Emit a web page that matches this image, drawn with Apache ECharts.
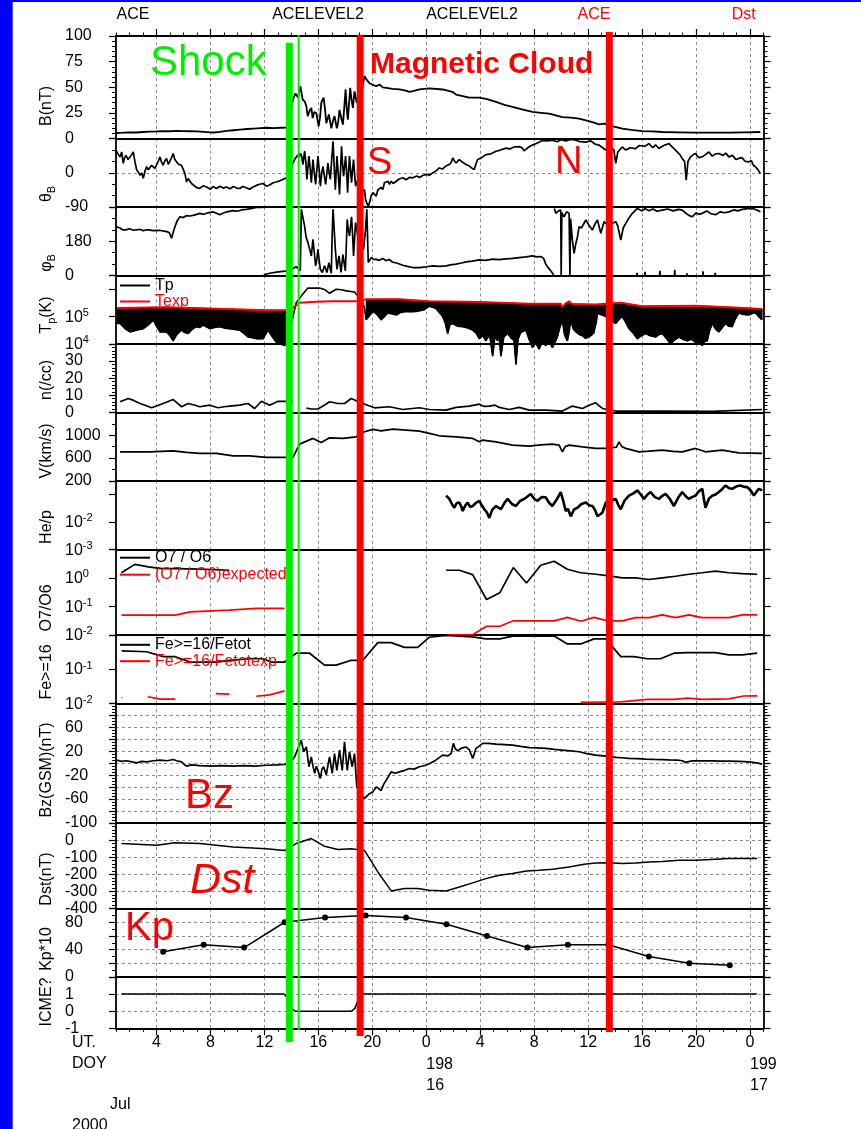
<!DOCTYPE html>
<html>
<head>
<meta charset="utf-8">
<script src="https://cdn.jsdelivr.net/npm/echarts@6/dist/echarts.min.js"></script>
<style>
  html, body { margin: 0; padding: 0; background: #fff; }
  #chart { width: 861px; height: 1129px; }
</style>
</head>
<body>
<div id="chart"></div>
<script>
// ---------- time axis (hours since 2000-07-15 00:00 UT) ----------
const HOURS_MAJOR = [4, 8, 12, 16, 20, 24, 28, 32, 36, 40, 44, 48];
const DOY_TICKS = [24, 48];
const DOY_LABELS = ['198', '199'];
const DAY_LABELS = ['16', '17'];
const TOP_LABELS = ['ACE', 'ACELEVEL2', 'ACELEVEL2', 'ACE', 'Dst'];
const EVENT_TIMES = [13.85, 14.54, 19.10, 37.57];   // shock, shock (2nd), cloud start, cloud end

// ---------- measurements: [hour, value] ----------
const B_NT = [[1.05,5.5],[1.5,5.8],[2.0,6.2],[2.5,6],[3.0,6.5],[3.5,6.8],[4.0,7],[4.5,7.3],[5.0,7.2],[5.5,7.6],[6.0,7.4],[6.5,7.2],[7.0,7],[7.5,6.6],[8.0,6.2],[8.3,6.0],[8.7,6.6],[9.2,7.5],[9.7,8.2],[10.2,8.8],[10.7,9.4],[11.2,9.8],[11.7,10.2],[12.2,10.6],[12.7,10.2],[13.2,10.6],[13.7,10.8],[13.9,11],
[14.0,30],[14.12,38],[14.3,44],[14.5,40],[14.67,51],[14.84,38],[15.0,36],[15.11,31.6],[15.21,22],[15.35,27],[15.48,30],[15.58,20],[15.7,26],[15.85,25],[16.02,12],[16.12,20],[16.22,35],[16.39,40],[16.5,28],[16.59,15],[16.78,23.5],[16.96,10],[17.1,18],[17.2,22],[17.37,10],[17.47,16],[17.57,28],[17.7,20],[17.82,13.7],[17.92,30],[18.02,48],[18.1,30],[18.19,18.6],[18.28,35],[18.36,49.5],[18.46,38],[18.56,30],[18.68,46],[18.85,35],[19.0,40],[19.2,45],[19.42,61],[19.55,58],[19.79,54],[20.29,51],[20.53,52.8],[20.78,50],[21.03,49.5],[21.5,48.5],[22.01,48],[22.4,47],[22.75,45.5],[23.1,46.5],[23.49,48],[24.23,48.9],[25.22,47.9],[25.93,45.6],[26.21,43],[26.7,41.5],[27.19,40],[27.93,40],[28.5,38.5],[29.17,35.8],[29.8,33],[30.39,30.9],[31.1,28.5],[31.87,26],[32.5,25.2],[33.11,24.4],[34.09,21],[34.7,20.5],[35.33,19.5],[35.9,17.5],[36.44,15.6],[36.81,14],[37.18,14.7],[37.55,13],[38.0,11.5],[38.53,9.8],[39.2,8.5],[40.01,7.4],[40.8,7],[41.49,6.5],[42.7,6.2],[43.96,5.9],[45.2,5.8],[46.43,5.9],[47.6,6.2],[48.77,6.5]];

const THETA_B = [[1.0,59],[1.15,50],[1.3,42],[1.42,55],[1.54,25],[1.64,40],[1.74,46],[1.9,35],[2.04,38],[2.16,48],[2.28,55],[2.4,30],[2.53,8],[2.65,2],[2.78,-6],[2.9,0],[3.02,-14],[3.15,5],[3.27,16],[3.4,8],[3.52,11.6],[3.64,20],[3.76,25],[3.88,12],[4.01,16],[4.13,30],[4.26,42],[4.38,28],[4.5,20],[4.62,32],[4.75,38],[4.88,22],[5.0,25],[5.12,40],[5.24,51],[5.36,35],[5.49,29],[5.66,22],[5.86,20],[6.0,8],[6.11,-2],[6.23,-24],[6.35,-15],[6.48,-19],[6.6,-28],[6.72,-32],[6.95,-38],[7.21,-41],[7.45,-34],[7.71,-37],[8.0,-43],[8.2,-36],[8.45,-41],[8.7,-35],[8.95,-40],[9.19,-37],[9.45,-42],[9.7,-36],[9.95,-40],[10.17,-41],[10.4,-36],[10.65,-39],[10.9,-43],[11.16,-37],[11.4,-33],[11.65,-30],[11.9,-28],[12.15,-35],[12.39,-32],[12.65,-26],[12.89,-24],[13.2,-20],[13.5,-15],[13.9,-10],[14.05,20],
[14.24,35],[14.37,30],[14.49,48],[14.58,40],[14.66,52],[14.76,45],[14.86,22],[14.98,57],[15.07,30],[15.15,-17],[15.3,44],[15.4,10],[15.48,-26],[15.6,35],[15.7,0],[15.8,-30.5],[15.97,44],[16.06,10],[16.15,-35],[16.25,0],[16.34,17],[16.45,-10],[16.54,-30.5],[16.71,26],[16.8,0],[16.89,-17],[17.0,40],[17.09,83],[17.17,20],[17.26,-44],[17.38,44],[17.47,0],[17.57,-57],[17.72,70],[17.8,20],[17.87,-9],[17.95,20],[18.02,44],[18.1,0],[18.17,-52],[18.24,0],[18.31,44],[18.38,10],[18.46,-26],[18.54,10],[18.61,35],[18.68,0],[18.76,-35],[18.9,-20],[19.05,-40],[19.2,-50],[19.42,-44],[19.5,-70],[19.59,-79],[19.7,-88],[19.79,-79],[19.92,-60],[20.04,-52],[20.16,-52],[20.29,-61],[20.41,-45],[20.53,-44],[20.65,-38],[20.78,-44],[20.9,-26],[21.03,-30.5],[21.15,-22],[21.27,-30],[21.4,-22],[21.55,-28],[21.77,-22],[22.0,-16],[22.26,-13],[22.5,-18],[22.75,-12],[23.0,-13],[23.3,-8],[23.5,-12],[23.74,-7],[24.0,-4],[24.25,-6],[24.48,0],[24.72,5],[24.97,13],[25.2,10],[25.45,18],[25.71,22],[25.85,28],[25.96,39],[26.08,32],[26.21,26],[26.33,30],[26.45,35],[26.7,28],[26.95,22],[27.2,18],[27.4,12],[27.56,9],[27.7,25],[27.81,35],[28.1,40],[28.42,48],[28.8,50],[29.17,57],[29.5,60],[29.91,65],[30.2,63],[30.5,68],[30.89,69],[31.1,66],[31.25,58],[31.39,60],[31.6,68],[31.87,73],[32.2,78],[32.61,85],[33.0,84],[33.35,86],[33.7,82],[34.0,87],[34.35,84],[34.7,88],[35.09,86],[35.4,82],[35.83,81],[36.2,84],[36.5,76],[36.81,73],[37.0,68],[37.31,60],[37.6,64],[37.9,62],[38.05,25],[38.2,55],[38.53,68],[38.8,60],[39.1,66],[39.52,64],[39.8,72],[40.2,70],[40.51,77],[40.8,66],[41.0,74],[41.25,64],[41.6,72],[41.99,77],[42.3,66],[42.6,55],[42.8,48],[42.97,38],[43.15,30],[43.27,-19],[43.4,30],[43.59,42],[43.8,48],[43.96,51],[44.2,40],[44.45,42],[44.7,48],[44.95,55],[45.2,44],[45.45,50],[45.69,51],[46.0,46],[46.2,52],[46.43,42],[46.7,46],[46.95,35],[47.17,38],[47.4,40],[47.65,30],[47.91,29],[48.1,32],[48.25,20],[48.4,16],[48.6,8],[48.77,-2]];

const PHI_B = [[1.0,257],[1.3,250],[1.5,240],[1.74,240],[2.0,246],[2.3,238],[2.78,243],[3.0,236],[3.3,241],[3.76,236],[4.2,238],[4.75,231],[4.95,226],[5.12,196],[5.25,230],[5.37,257],[5.55,290],[5.74,309],[6.0,305],[6.2,315],[6.48,313],[6.8,318],[7.21,327],[7.5,322],[7.8,330],[8.2,335],[8.45,328],[8.69,320],[9.0,330],[9.3,336],[9.68,341],[10.0,338],[10.3,345],[10.66,348],[11.0,352],[11.4,358],[11.9,359],[11.92,null],
[11.95,4],[12.39,12],[12.9,18],[13.38,22],[13.87,26],[14.1,35],[14.24,33],[14.36,47],[14.49,51],[14.66,25],[14.72,15],[14.74,348],[14.98,260],[15.1,200],[15.23,173],[15.35,140],[15.48,103],[15.6,191],[15.7,120],[15.8,51],[15.9,90],[15.97,138],[16.06,80],[16.15,33],[16.29,16],[16.46,51],[16.64,16],[16.78,68],[16.96,12],[17.02,200],[17.09,348],[17.17,250],[17.26,138],[17.38,33],[17.53,103],[17.68,16],[17.82,110],[18.0,25],[18.07,150],[18.14,295],[18.2,250],[18.31,208],[18.46,309],[18.55,200],[18.61,103],[18.68,190],[18.76,278],[18.95,200],[19.1,160],[19.25,150],[19.35,138],[19.5,243],[19.59,348],[19.65,200],[19.7,68],[19.79,77],[19.92,94],[20.1,85],[20.29,85],[20.53,80],[20.78,90],[21.0,78],[21.25,84],[21.52,70],[21.8,66],[22.26,54],[22.6,48],[23.0,42],[23.49,42],[24.0,46],[24.48,51],[25.0,48],[25.47,51],[25.8,56],[26.21,60],[26.6,66],[26.95,72],[27.4,76],[27.93,82],[28.4,80],[28.92,86],[29.4,84],[29.91,88],[30.4,90],[30.89,94],[31.4,98],[31.87,103],[32.2,98],[32.49,100],[32.7,90],[32.86,60],[33.05,40],[33.23,25],[33.4,8],[33.45,0],[33.47,null],
[33.5,353],[33.6,327],[33.8,340],[33.97,344],[34.0,0],[34.05,330],[34.22,309],[34.4,335],[34.59,327],[34.65,0],[34.7,300],[34.83,187],[34.96,117],[35.09,170],[35.2,200],[35.33,257],[35.5,250],[35.83,292],[36.1,260],[36.32,240],[36.5,270],[36.69,292],[36.94,222],[37.18,283],[37.4,270],[37.6,290],[37.8,275],[38.05,283],[38.2,260],[38.42,187],[38.6,250],[38.79,274],[39.0,300],[39.28,327],[39.65,353],[40.0,340],[40.2,352],[40.51,341],[40.8,350],[41.1,338],[41.5,344],[41.9,350],[42.3,340],[42.7,348],[42.98,344],[43.3,325],[43.5,315],[43.72,309],[44.0,330],[44.2,322],[44.46,327],[44.8,340],[45.1,325],[45.44,320],[45.8,335],[46.1,330],[46.43,335],[46.8,345],[47.1,340],[47.42,348],[47.8,352],[48.16,353],[48.5,345],[48.77,335]];

const PHI_B_WRAPPED = [[39.6,0],[39.62,14],[39.64,0],[39.66,null],[40.2,0],[40.22,20],[40.24,0],[40.26,null],[41.3,0],[41.32,25],[41.34,0],[41.36,null],[42.4,0],[42.42,30],[42.44,0],[42.46,null],[43.3,0],[43.32,12],[43.34,0],[43.36,null],[44.5,0],[44.52,22],[44.54,0],[44.56,null],[45.4,0],[45.42,14],[45.44,0]];

const TP = [[1.1,5.6e4],[1.3,5.6e4],[1.7,3.5e4],[2.04,2.75e4],[2.5,3.2e4],[3.02,3.6e4],[3.4,5.0e4],[3.76,7.6e4],[4.0,4.5e4],[4.26,2.75e4],[4.75,2.75e4],[5.0,2.0e4],[5.24,1.3e4],[5.5,2.2e4],[5.86,3.2e4],[6.1,2.6e4],[6.36,2.4e4],[6.7,3.6e4],[6.97,4.3e4],[7.2,4.0e4],[7.46,4.9e4],[7.7,4.2e4],[7.96,3.6e4],[8.3,4.0e4],[8.69,4.3e4],[9.05,3.8e4],[9.43,3.6e4],[9.8,3.4e4],[10.17,3.2e4],[10.5,2.4e4],[10.78,1.8e4],[11.1,1.7e4],[11.4,1.55e4],[11.9,1.55e4],[12.27,3.2e4],[12.6,1.8e4],[12.89,1.15e4],[13.2,1.0e4],[13.5,8.7e3],[13.8,2.0e4],[14.0,5.0e4],[14.12,1.0e5],[14.36,3.2e5],[14.73,5.6e5],[15.23,1.1e6],[15.6,1.1e6],[16.09,1.1e6],[16.5,9.5e5],[16.83,7.1e5],[17.32,1.0e6],[17.7,9.5e5],[18.07,8.7e5],[18.68,7.9e5],[18.93,5.6e5],[19.3,3.2e5],[19.42,2.0e5],[19.55,7.6e4],[19.8,1.1e5],[20.04,1.55e5],[20.35,1.2e5],[20.65,7.6e4],[20.9,1.0e5],[21.14,1.35e5],[21.5,1.25e5],[21.77,1.15e5],[22.1,1.4e5],[22.51,1.55e5],[22.9,1.5e5],[23.25,1.55e5],[23.86,1.8e5],[24.23,2.4e5],[24.7,2.0e5],[25.22,1.0e5],[25.4,6.0e4],[25.59,2.4e4],[25.75,5.0e4],[25.96,5.6e4],[26.3,4.5e4],[26.7,4.3e4],[27.1,3.8e4],[27.44,3.2e4],[27.7,2.5e4],[27.93,1.55e4],[28.2,2.0e4],[28.42,1.3e4],[28.7,2.2e4],[28.92,3.6e3],[29.1,2.0e4],[29.29,1.3e4],[29.4,2.2e4],[29.53,3.6e3],[29.75,1.8e4],[30.03,2.4e4],[30.3,1.6e4],[30.5,1.4e4],[30.65,1.8e3],[30.8,1.5e4],[31.0,2.6e4],[31.39,3.2e4],[31.6,1.6e4],[31.87,7.4e3],[32.1,1.1e4],[32.37,6.5e3],[32.6,1.2e4],[32.86,8.7e3],[33.1,1.3e4],[33.35,7.4e3],[33.55,1.2e4],[33.72,1.8e4],[33.9,4.0e4],[34.09,7.6e4],[34.25,2.2e4],[34.46,1.3e4],[34.6,3.0e4],[34.71,7.6e4],[34.9,3.5e4],[35.09,2.75e4],[35.35,2.2e4],[35.58,2.0e4],[35.8,1.6e4],[36.07,1.8e4],[36.3,2.2e4],[36.44,2.4e4],[36.6,6e4],[36.69,1.35e5],[36.9,1.2e5],[37.06,1.15e5],[37.31,1.0e5],[37.6,8e4],[38.05,5.6e4],[38.3,8e4],[38.54,1.0e5],[38.8,6e4],[39.03,3.6e4],[39.3,2.6e4],[39.65,1.55e4],[39.95,2.0e4],[40.26,2.4e4],[40.6,2.0e4],[41.0,1.8e4],[41.25,2.2e4],[41.5,2.4e4],[41.8,1.6e4],[42.11,1.0e4],[42.4,1.4e4],[42.73,1.8e4],[43.0,1.5e4],[43.35,1.3e4],[43.65,1.5e4],[43.96,1.15e4],[44.2,1.2e4],[44.46,8.7e3],[44.6,1.2e4],[44.83,1.3e4],[45.0,3.0e4],[45.2,5.6e4],[45.45,3.5e4],[45.69,2.75e4],[45.95,4.0e4],[46.19,5.6e4],[46.4,4.5e4],[46.68,4.3e4],[46.9,8e4],[47.17,1.35e5],[47.5,1.2e5],[47.91,1.15e5],[48.15,1.3e5],[48.4,1.35e5],[48.65,1.0e5],[48.89,7.6e4]];

const TEXP = [[1.1,2.07e5],[4.75,2.2e5],[8.45,1.95e5],[12.15,1.7e5],[13.85,1.7e5],[14.12,2.1e5],[14.61,3.2e5],[15.85,3.5e5],[17.08,3.6e5],[18.81,3.6e5],[19.55,4.3e5],[22.01,4.3e5],[24.23,3.6e5],[27.93,3.4e5],[31.63,2.95e5],[33.97,2.95e5],[34.09,2.2e5],[34.3,2.9e5],[34.59,3.6e5],[34.8,2.9e5],[36.56,2.75e5],[38.42,3.2e5],[40.02,2.4e5],[43.96,2.5e5],[46.43,2.2e5],[48.9,1.9e5]];

// intervals where Tp sits below the expected temperature (shaded)
const TP_BELOW_SPANS = [[1.1, 13.85], [19.55, 48.9]];

const N_CC = [[1.3,6.2],[1.91,8.1],[2.3,7],[2.78,5.2],[3.2,4],[3.64,2.7],[4.1,4],[4.5,5.2],[5.24,7.5],[5.86,3.3],[6.35,5.2],[6.8,4.3],[7.21,3.3],[7.95,4.2],[8.57,2.7],[9.0,3.3],[9.43,3.7],[10.17,4.3],[10.79,5.2],[11.28,2.3],[11.78,6.5],[12.39,4.2],[13.01,6.5],[13.5,6.5],[14.12,6.5],[14.15,null],[15.11,2.5],[15.5,2.0],[15.97,2.0],[16.5,4.5],[16.83,6.2],[17.45,5.2],[17.94,5.2],[18.44,8.1],[18.93,6.4],[19.55,4.5],[20.16,2.7],[21.27,3.3],[22.26,1.7],[23.49,2.7],[24.23,1.7],[25.47,1.3],[26.21,2.9],[27.19,3.7],[27.93,4.8],[28.3,3.5],[28.67,3.7],[29.1,4.2],[29.41,2.9],[30.15,1.7],[30.89,2.9],[31.63,1.3],[32.86,1.3],[34.09,0.8],[34.83,3.7],[35.58,2.3],[36.07,4.2],[36.56,5.6],[36.8,4],[37.06,2.3],[38.05,0.8],[41.5,0.8],[45.2,0.6],[48.9,1.7]];

const V_KMS = [[1.3,709],[3.52,709],[5.24,726],[6.23,698],[7.21,680],[8.45,680],[9.68,639],[10.91,639],[12.15,610],[13.5,610],[14.12,610],[14.61,844],[15.6,944],[16.22,873],[16.83,954],[17.82,944],[18.81,972],[19.42,1060],[20.04,1102],[20.65,1077],[21.52,1107],[22.51,1089],[23.49,1072],[24.23,1031],[24.97,990],[26.21,972],[27.44,944],[27.93,884],[28.18,914],[29.17,884],[30.39,826],[31.63,808],[32.5,830],[33.35,844],[33.85,826],[34.09,709],[34.3,800],[34.59,826],[35.58,796],[36.56,768],[37.31,768],[38.1,790],[38.29,884],[38.5,800],[38.79,768],[39.77,709],[40.5,720],[41.5,738],[42.3,715],[42.98,709],[43.96,768],[44.7,709],[45.93,738],[47.17,691],[48.9,680]];

const HE_P = [[25.47,0.091],[25.6,0.083],[25.71,0.069],[25.9,0.045],[26.08,0.033],[26.25,0.048],[26.45,0.051],[26.6,0.036],[26.7,0.025],[26.9,0.04],[27.07,0.051],[27.25,0.035],[27.44,0.038],[27.7,0.05],[27.93,0.059],[28.1,0.042],[28.3,0.029],[28.5,0.022],[28.67,0.014],[28.9,0.028],[29.17,0.038],[29.35,0.033],[29.54,0.029],[29.8,0.05],[30.03,0.069],[30.35,0.045],[30.65,0.038],[30.95,0.058],[31.26,0.069],[31.5,0.085],[31.75,0.105],[32.0,0.07],[32.25,0.059],[32.55,0.08],[32.86,0.079],[33.1,0.05],[33.35,0.038],[33.7,0.07],[33.97,0.123],[34.15,0.06],[34.34,0.025],[34.5,0.03],[34.71,0.016],[34.95,0.028],[35.21,0.033],[35.5,0.045],[35.83,0.051],[36.1,0.04],[36.32,0.038],[36.5,0.028],[36.69,0.016],[36.9,0.019],[37.06,0.022],[37.31,0.051],[37.7,0.06],[38.05,0.069],[38.25,0.04],[38.42,0.029],[38.7,0.06],[39.03,0.091],[39.35,0.11],[39.65,0.141],[39.9,0.1],[40.14,0.069],[40.4,0.1],[40.63,0.123],[40.95,0.08],[41.25,0.069],[41.5,0.09],[41.74,0.105],[42.05,0.07],[42.36,0.038],[42.7,0.08],[42.98,0.123],[43.2,0.09],[43.47,0.069],[43.7,0.08],[43.96,0.091],[44.2,0.13],[44.46,0.162],[44.6,0.06],[44.7,0.033],[44.95,0.07],[45.2,0.091],[45.45,0.1],[45.69,0.123],[45.95,0.16],[46.19,0.214],[46.45,0.17],[46.68,0.162],[47.0,0.2],[47.3,0.214],[47.55,0.19],[47.8,0.186],[48.05,0.14],[48.29,0.091],[48.5,0.13],[48.66,0.162],[48.9,0.141]];

const O7_O6 = [[1.4,1.5],[2.4,2.95],[3.4,2.4],[4.4,2.1],[5.4,2.1],[7.2,2.0],[9.4,1.84],[9.5,null],[25.47,1.84],[26.45,1.84],[27.44,1.29],[28.47,0.173],[29.46,0.30],[30.45,2.29],[31.43,0.66],[32.49,2.75],[33.48,3.8],[34.46,2.0],[35.45,1.5],[36.56,1.33],[37.55,1.16],[38.53,1.0],[39.52,1.0],[40.51,0.87],[41.5,1.0],[42.48,1.13],[43.47,1.33],[44.46,1.5],[45.44,1.7],[46.43,1.5],[47.42,1.41],[48.53,1.33]];
const O7_O6_EXP = [[1.4,0.049],[5.4,0.049],[6.5,0.064],[9.4,0.073],[11.4,0.084],[13.5,0.084],[13.6,null],[25.47,0.010],[27.44,0.010],[28.47,0.020],[29.46,0.020],[30.45,0.031],[31.43,0.031],[32.49,0.031],[33.48,0.031],[34.46,0.041],[35.45,0.030],[36.44,0.041],[37.43,0.031],[38.53,0.031],[39.52,0.040],[40.51,0.040],[41.5,0.050],[42.48,0.040],[43.47,0.050],[44.46,0.040],[45.44,0.040],[46.43,0.040],[47.42,0.050],[48.53,0.050]];

const FE16 = [[1.42,0.34],[3.27,0.32],[4.5,0.23],[5.37,0.23],[6.48,0.16],[8.45,0.16],[9.43,0.18],[10.91,0.20],[11.9,0.20],[12.52,0.16],[13.5,0.16],[14.36,0.29],[15.35,0.29],[16.46,0.13],[17.32,0.13],[18.44,0.18],[19.3,0.18],[20.41,0.59],[21.4,0.59],[22.38,0.43],[23.37,0.43],[24.23,0.85],[25.47,0.96],[27.44,0.87],[28.42,0.76],[29.46,0.76],[30.39,0.92],[33.48,0.92],[34.46,0.54],[35.45,0.54],[36.44,0.76],[37.31,0.76],[38.42,0.23],[39.4,0.23],[40.39,0.20],[41.37,0.20],[42.36,0.29],[43.35,0.30],[44.33,0.30],[45.44,0.30],[46.43,0.26],[47.42,0.26],[48.53,0.29]];
const FE16_EXP = [[1.4,0.0145],[1.47,0.0145],[1.5,null],[3.35,0.0155],[4.3,0.0132],[5.4,0.0132],[5.5,null],[8.4,0.019],[9.4,0.0185],[9.5,null],[11.4,0.016],[12.4,0.0175],[13.5,0.023],[13.6,null],[35.45,0.0107],[38.42,0.011],[40.39,0.013],[42.36,0.013],[43.35,0.0142],[44.46,0.013],[46.43,0.0135],[47.54,0.0163],[48.53,0.0165]];

const BZ_GSM = [[1.05,5],[1.4,3],[1.79,4],[2.2,2],[2.53,0.5],[2.9,3],[3.27,2],[3.8,4],[4.26,5],[4.8,4],[5.24,6],[5.5,4],[5.86,2],[6.05,-2],[6.23,-5],[6.6,-3],[7.21,-4],[8.0,-5],[8.8,-4],[9.68,-5],[10.5,-4],[11.3,-5],[12.15,-3.5],[12.9,-3],[13.5,-2],[13.9,0],[14.05,5],[14.24,10.5],[14.49,24.6],[14.6,30],[14.73,38.5],[14.91,19],[15.11,27],[15.3,-6],[15.48,10.5],[15.6,-5],[15.73,-17],[15.85,-5],[15.97,-12],[16.15,-25.6],[16.27,-10],[16.39,-6],[16.59,-20],[16.7,-5],[16.83,10.5],[17.03,-17],[17.2,16],[17.37,-12],[17.57,21.8],[17.77,-12],[17.94,35.7],[18.14,-12],[18.31,19],[18.51,-6],[18.68,16],[18.85,-39.7],[19.1,-50],[19.42,-59],[19.6,-55],[19.79,-51],[20.04,-48],[20.29,-40],[20.45,-42],[20.65,-46],[20.85,-35],[21.03,-28.5],[21.2,-22],[21.4,-14.6],[21.7,-17],[22.01,-14.6],[22.4,-12],[22.75,-9],[23.1,-10],[23.49,-6],[23.9,-4],[24.23,-1],[24.7,5],[25.22,13.4],[25.6,12],[25.84,16],[26.01,33],[26.15,24],[26.33,20.6],[26.6,25],[26.95,27],[27.2,22],[27.44,7.9],[27.55,15],[27.68,24.6],[27.9,28],[28.18,33],[28.6,33],[29.17,31.8],[29.8,31],[30.39,30],[31.0,28],[31.63,26],[32.2,25.5],[32.86,24.6],[33.5,23],[34.09,21.8],[34.7,20.5],[35.33,19],[35.9,16],[36.56,13.4],[37.31,11.7],[38.05,9.5],[38.5,9],[39.03,8],[39.6,7.5],[40.26,6.7],[40.9,6.2],[41.5,6],[42.0,5.5],[42.6,5],[43.0,4],[43.2,1],[43.27,-1.7],[43.35,2],[43.72,3.9],[44.4,4],[45.2,3.9],[45.8,3.5],[46.43,3.5],[47.2,3],[47.91,2.2],[48.5,0.5],[48.9,-1.7]];

const DST_NT = [[1.42,-20],[4.01,-30],[5.37,-15],[7.21,-20],[9.68,-40],[12.15,-50],[13.5,-60],[14.36,-20],[15.48,9],[16.46,-36],[17.45,-55],[18.44,-50],[19.42,-60],[20.41,-186],[21.4,-297],[22.38,-283],[23.37,-283],[24.23,-293],[25.47,-297],[26.45,-274],[27.44,-250],[28.42,-225],[29.41,-205],[30.39,-195],[31.43,-180],[32.37,-176],[33.35,-170],[34.59,-157],[35.7,-141],[36.56,-134],[37.55,-132],[38.53,-137],[39.52,-134],[40.51,-128],[41.5,-125],[42.73,-118],[43.96,-118],[45.44,-112],[46.43,-108],[48.53,-108]];

const KP_TIMES = [4.5, 7.5, 10.5, 13.5, 16.5, 19.5, 22.5, 25.5, 28.5, 31.5, 34.5, 37.5, 40.5, 43.5, 46.5];
const KP_X10 = [37, 47, 43, 80, 87, 90, 87, 77, 60, 43, 47, 47, 30, 20, 17];

const ICME_FLAG = [[1.4,1],[13.45,1],[13.6,0.9],[13.9,0.25],[14.3,0],[18.45,0],[18.7,0.15],[19.0,0.75],[19.3,1],[48.5,1]];

// ---------- layout ----------
const FONT = '"Liberation Sans", Arial, Helvetica, sans-serif';
const UNIT = 17.109;
const PANEL_UNITS = [6, 4, 4, 4, 4, 4, 4, 5, 4, 7, 5, 4, 3];
const PLOT_LEFT = 116, PLOT_WIDTH = 647.5, PLOT_TOP = 36;
const T_MIN = 1, T_MAX = 49;
const GREEN = '#00ee00', RED = '#ff0000';

const grids = [];
let yCursor = PLOT_TOP;
PANEL_UNITS.forEach(u => {
  grids.push({ left: PLOT_LEFT, top: yCursor, width: PLOT_WIDTH, height: u * UNIT,
               containLabel: false, outerBoundsMode: 'none' });
  yCursor += u * UNIT;
});

// y scale per panel; `labels` lists tick values (or decades for log axes) that get text
const PANELS = [
  { type: 'value', min: 0, max: 100, interval: 25, minor: 5, labels: [0, 25, 50, 75, 100] },
  { type: 'value', min: -90, max: 90, interval: 90, minor: 3, labels: [-90, 0], grid: true },
  { type: 'value', min: 0, max: 360, interval: 180, minor: 3, labels: [0, 180] },
  { type: 'log', min: 1e4, max: Math.pow(10, 6.5), labels: [4, 5] },
  { type: 'value', min: 0, max: 40, interval: 10, minor: 5, labels: [0, 10, 20, 30] },
  { type: 'value', min: 200, max: 1400, interval: 400, minor: 2, labels: [200, 600, 1000] },
  { type: 'log', min: 1e-3, max: Math.pow(10, -0.5), labels: [-3, -2] },
  { type: 'log', min: 1e-2, max: 10, labels: [-2, -1, 0] },
  { type: 'log', min: 1e-2, max: 1, labels: [-2, -1] },
  { type: 'value', min: -100, max: 100, interval: 20, minor: 4, labels: [-100, -60, -20, 20, 60], grid: true },
  { type: 'value', min: -400, max: 100, interval: 100, minor: 5, labels: [-400, -300, -200, -100, 0], grid: true },
  { type: 'value', min: 0, max: 100, interval: 20, minor: 2, labels: [0, 40, 80], grid: true },
  { type: 'value', min: -1, max: 2, interval: 1, minor: 0, labels: [-1, 0, 1], grid: true }
];

const AXIS_NAMES = [
  { text: 'B(nT)', y: 106 },
  { text: '{n|θ}{sub|B}', y: 194 },
  { text: '{n|φ}{sub|B}', y: 263 },
  { text: '{n|T}{sub|p}{n|(K)}', y: 315 },
  { text: 'n(/cc)', y: 380 },
  { text: 'V(km/s)', y: 451 },
  { text: 'He/p', y: 527 },
  { text: 'O7/O6', y: 608 },
  { text: 'Fe>=16', y: 672 },
  { text: 'Bz(GSM)(nT)', y: 770 },
  { text: 'Dst(nT)', y: 879 },
  { text: 'Kp*10', y: 949 },
  { text: 'ICME?', y: 1002 }
];

const lineStyleAxis = { color: '#000', width: 1.8 };
const dashed = { type: [3, 3], color: '#8c8c8c', width: 1 };

function labelFormatter(cfg) {
  return function (v) {
    if (cfg.type === 'log') {
      const e = Math.log10(v), r = Math.round(e);
      if (Math.abs(e - r) > 1e-6 || cfg.labels.indexOf(r) < 0) return '';
      return '{b|10}{s|' + r + '}';
    }
    return cfg.labels.some(l => Math.abs(l - v) < 1e-9) ? String(v) : '';
  };
}

const labelRich = {
  b: { fontSize: 16, fontFamily: FONT, color: '#000', lineHeight: 18, verticalAlign: 'bottom' },
  s: { fontSize: 11, fontFamily: FONT, color: '#000', lineHeight: 18, verticalAlign: 'top' }
};

const yAxes = [];
PANELS.forEach((cfg, i) => {
  const base = { gridIndex: i, type: cfg.type, min: cfg.min, max: cfg.max };
  if (cfg.type === 'value') base.interval = cfg.interval; else base.logBase = 10;
  yAxes.push(Object.assign({}, base, {
    position: 'left',
    axisLine: { show: true, onZero: false, lineStyle: lineStyleAxis },
    axisTick: { show: true, length: 7, lineStyle: { color: '#000', width: 1.2 } },
    minorTick: { show: cfg.minor > 0, splitNumber: cfg.minor || 1, length: 4, lineStyle: { color: '#000', width: 1 } },
    axisLabel: { show: true, formatter: labelFormatter(cfg), align: 'left', margin: 51,
                 fontSize: 16, color: '#000', fontFamily: FONT, rich: labelRich },
    splitLine: { show: !!cfg.grid, lineStyle: dashed }
  }));
});
PANELS.forEach((cfg, i) => {
  const base = { gridIndex: i, type: cfg.type, min: cfg.min, max: cfg.max };
  if (cfg.type === 'value') base.interval = cfg.interval; else base.logBase = 10;
  yAxes.push(Object.assign({}, base, {
    position: 'right',
    axisLine: { show: true, onZero: false, lineStyle: lineStyleAxis },
    axisTick: { show: true, length: 7, lineStyle: { color: '#000', width: 1.2 } },
    minorTick: { show: cfg.minor > 0, splitNumber: cfg.minor || 1, length: 4, lineStyle: { color: '#000', width: 1 } },
    axisLabel: { show: false },
    splitLine: { show: false }
  }));
});

const xAxes = grids.map((g, i) => ({
  gridIndex: i, type: 'value', min: T_MIN, max: T_MAX, position: 'bottom',
  axisLine: { show: true, onZero: false, lineStyle: lineStyleAxis },
  axisTick: { show: i === grids.length - 1, customValues: HOURS_MAJOR, length: 7, lineStyle: { color: '#000', width: 1.2 } },
  axisLabel: { show: i === grids.length - 1, customValues: HOURS_MAJOR, formatter: v => String(v % 24),
               margin: 6, fontSize: 16, color: '#000', fontFamily: FONT },
  splitLine: { show: true, lineStyle: dashed }
}));
const LAST = grids.length - 1;
xAxes.push({ gridIndex: 0, type: 'value', min: T_MIN, max: T_MAX, position: 'top',
  axisLine: { show: true, onZero: false, lineStyle: lineStyleAxis },
  axisTick: { show: true, customValues: HOURS_MAJOR, length: 7, lineStyle: { color: '#000', width: 1.2 } },
  axisLabel: { show: false }, splitLine: { show: false } });
xAxes.push({ gridIndex: 0, type: 'value', min: T_MIN, max: T_MAX, interval: 1, position: 'top',
  axisLine: { show: false, onZero: false }, axisTick: { show: true, length: 3.5, lineStyle: { color: '#000', width: 1 } },
  axisLabel: { show: false }, splitLine: { show: false } });
xAxes.push({ gridIndex: LAST, type: 'value', min: T_MIN, max: T_MAX, interval: 1, position: 'bottom',
  axisLine: { show: false, onZero: false }, axisTick: { show: true, length: 3.5, lineStyle: { color: '#000', width: 1 } },
  axisLabel: { show: false }, splitLine: { show: false } });
xAxes.push({ gridIndex: LAST, type: 'value', min: T_MIN, max: T_MAX, position: 'bottom',
  axisLine: { show: false, onZero: false }, axisTick: { show: false },
  axisLabel: { show: true, customValues: DOY_TICKS, align: 'left', margin: 26, lineHeight: 21,
               fontSize: 16, color: '#000', fontFamily: FONT,
               formatter: v => { const k = DOY_TICKS.indexOf(v); return k < 0 ? '' : DOY_LABELS[k] + '\n' + DAY_LABELS[k]; } },
  splitLine: { show: false } });

function line(name, data, i, color, width, extra) {
  return Object.assign({
    type: 'line', name: name, data: data, xAxisIndex: i, yAxisIndex: i,
    symbol: 'none', showSymbol: false, animation: false, connectNulls: false,
    lineStyle: { color: color, width: width }, itemStyle: { color: color }, z: 3
  }, extra || {});
}

const series = [
  line('B', B_NT, 0, '#000', 1.8),
  line('thetaB', THETA_B, 1, '#000', 1.7),
  line('phiB', PHI_B, 2, '#000', 1.7),
  line('phiB wrapped', PHI_B_WRAPPED, 2, '#000', 1.7),
  {
    type: 'custom', name: 'Tp shade', xAxisIndex: 3, yAxisIndex: 3, animation: false, clip: false,
    data: TP_BELOW_SPANS.map(s => [s[0], s[1], 1e5]),
    encode: { x: [0, 1], y: 2 },
    renderItem: function (params, api) {
      const t0 = api.value(0), t1 = api.value(1);
      const upper = TEXP.filter(p => p[0] >= t0 && p[0] <= t1);
      const lower = TP.filter(p => p[0] >= t0 && p[0] <= t1).reverse();
      const pts = upper.concat(lower).map(p => api.coord(p));
      return { type: 'polygon', shape: { points: pts }, style: { fill: '#000', stroke: '#000', lineWidth: 1 } };
    },
    z: 2
  },
  line('Tp', TP, 3, '#000', 1.6, { clip: false }),
  line('Texp', TEXP, 3, RED, 2, { z: 4 }),
  line('n', N_CC, 4, '#000', 1.7),
  line('V', V_KMS, 5, '#000', 1.7),
  line('He/p', HE_P, 6, '#000', 2.6),
  line('O7 / O6', O7_O6, 7, '#000', 1.7),
  line('(O7 / O6)expected', O7_O6_EXP, 7, RED, 1.7),
  line('Fe>=16/Fetot', FE16, 8, '#000', 1.7),
  line('Fe>=16/Fetotexp', FE16_EXP, 8, RED, 1.7),
  line('Bz', BZ_GSM, 9, '#000', 1.7),
  line('Dst', DST_NT, 10, '#000', 1.5),
  line('Kp', KP_TIMES.map((t, k) => [t, KP_X10[k]]), 11, '#000', 1.5,
       { symbol: 'circle', symbolSize: 6, showSymbol: true }),
  line('ICME', ICME_FLAG, 12, '#000', 1.5)
];

function legendBlock(names, colors, left, top, itemH, gap) {
  return {
    data: names.map((n, k) => ({ name: n, textStyle: { color: colors[k] } })),
    left: left, top: top, orient: 'vertical', padding: 0,
    itemWidth: 30, itemHeight: itemH, itemGap: gap, itemTextGap: 5,
    selectedMode: false, icon: 'path://M0,0 L30,0 L30,2 L0,2 Z',
    textStyle: { fontSize: 16, fontFamily: FONT, lineHeight: itemH }
  };
}

const option = {
  animation: false,
  backgroundColor: '#fff',
  textStyle: { fontFamily: FONT },
  grid: grids,
  xAxis: xAxes,
  yAxis: yAxes,
  legend: [
    legendBlock(['Tp', 'Texp'], ['#000', RED], 120, 277.5, 13, 0),
    legendBlock(['O7 / O6', '(O7 / O6)expected'], ['#000', RED], 120, 549.7, 14, 1),
    legendBlock(['Fe>=16/Fetot', 'Fe>=16/Fetotexp'], ['#000', RED], 120, 636.8, 13, 0.4)
  ],
  series: series
};

const chart = echarts.init(document.getElementById('chart'), null, { renderer: 'canvas' });
chart.setOption(option);

// ---------- overlays: event markers, annotations, frame ----------
const EVENT_STYLE = [
  { color: GREEN, width: 7, y0: 42.7, y1: 1042 },
  { color: GREEN, width: 2, y0: 35, y1: 1030 },
  { color: RED, width: 7, y0: 34.7, y1: 1036 },
  { color: RED, width: 7, y0: 32, y1: 1032 }
];
const TOP_LABEL_STYLE = [
  { x: 133, color: '#000' }, { x: 318, color: '#000' }, { x: 472, color: '#000' },
  { x: 594, color: RED }, { x: 743.7, color: RED }
];

const graphics = [];
graphics.push({ type: 'rect', z: 200, shape: { x: 0, y: 0, width: 12.7, height: 1129 }, style: { fill: '#0000ff' } });
graphics.push({ type: 'rect', z: 200, shape: { x: 0, y: 0, width: 861, height: 2 }, style: { fill: '#0000ff' } });

EVENT_TIMES.forEach((t, k) => {
  const x = chart.convertToPixel({ xAxisIndex: 0 }, t);
  const s = EVENT_STYLE[k];
  graphics.push({ type: 'rect', z: 150, silent: true,
    shape: { x: x - s.width / 2, y: s.y0, width: s.width, height: s.y1 - s.y0 },
    style: { fill: s.color } });
});

TOP_LABELS.forEach((txt, k) => {
  graphics.push({ type: 'text', z: 160, x: TOP_LABEL_STYLE[k].x, y: 14.5,
    style: { text: txt, fill: TOP_LABEL_STYLE[k].color, font: '16px ' + FONT, align: 'center', verticalAlign: 'middle' } });
});

const ANNOTATIONS = [
  { text: 'Shock', x: 150, y: 63, font: '42px ' + FONT, color: GREEN, shadow: true },
  { text: 'Magnetic Cloud', x: 370, y: 65, font: 'bold 30px ' + FONT, color: RED },
  { text: 'S', x: 367, y: 164, font: '38px ' + FONT, color: RED },
  { text: 'N', x: 555, y: 163, font: '38px ' + FONT, color: RED },
  { text: 'Bz', x: 185, y: 796, font: '42px ' + FONT, color: RED },
  { text: 'Dst', x: 190, y: 881, font: 'italic 43px ' + FONT, color: RED },
  { text: 'Kp', x: 125, y: 929, font: '40px ' + FONT, color: RED }
];
ANNOTATIONS.forEach(a => {
  const style = { text: a.text, fill: a.color, font: a.font, align: 'left', verticalAlign: 'middle' };
  if (a.shadow) { style.shadowColor = 'rgba(0,0,0,0.55)'; style.shadowOffsetX = 1.5; style.shadowOffsetY = 1.5; style.shadowBlur = 1; }
  graphics.push({ type: 'text', z: 160, x: a.x, y: a.y, style: style });
});

AXIS_NAMES.forEach(n => {
  graphics.push({ type: 'text', z: 160, x: 47, y: n.y, rotation: Math.PI / 2,
    style: { text: n.text, fill: '#000', font: '16px ' + FONT, align: 'center', verticalAlign: 'middle',
      rich: {
        n: { fontSize: 16, fontFamily: FONT, lineHeight: 20, verticalAlign: 'middle' },
        sub: { fontSize: 11, fontFamily: FONT, lineHeight: 20, verticalAlign: 'bottom' }
      } } });
});

[
  { text: 'UT.', x: 72, y: 1042.5 },
  { text: 'DOY', x: 72, y: 1063.3 },
  { text: 'Jul', x: 110, y: 1105 },
  { text: '2000', x: 72, y: 1126 }
].forEach(b => {
  graphics.push({ type: 'text', z: 160, x: b.x, y: b.y,
    style: { text: b.text, fill: '#000', font: '16px ' + FONT, align: 'left', verticalAlign: 'middle' } });
});

chart.setOption({ graphic: graphics });
</script>
</body>
</html>
